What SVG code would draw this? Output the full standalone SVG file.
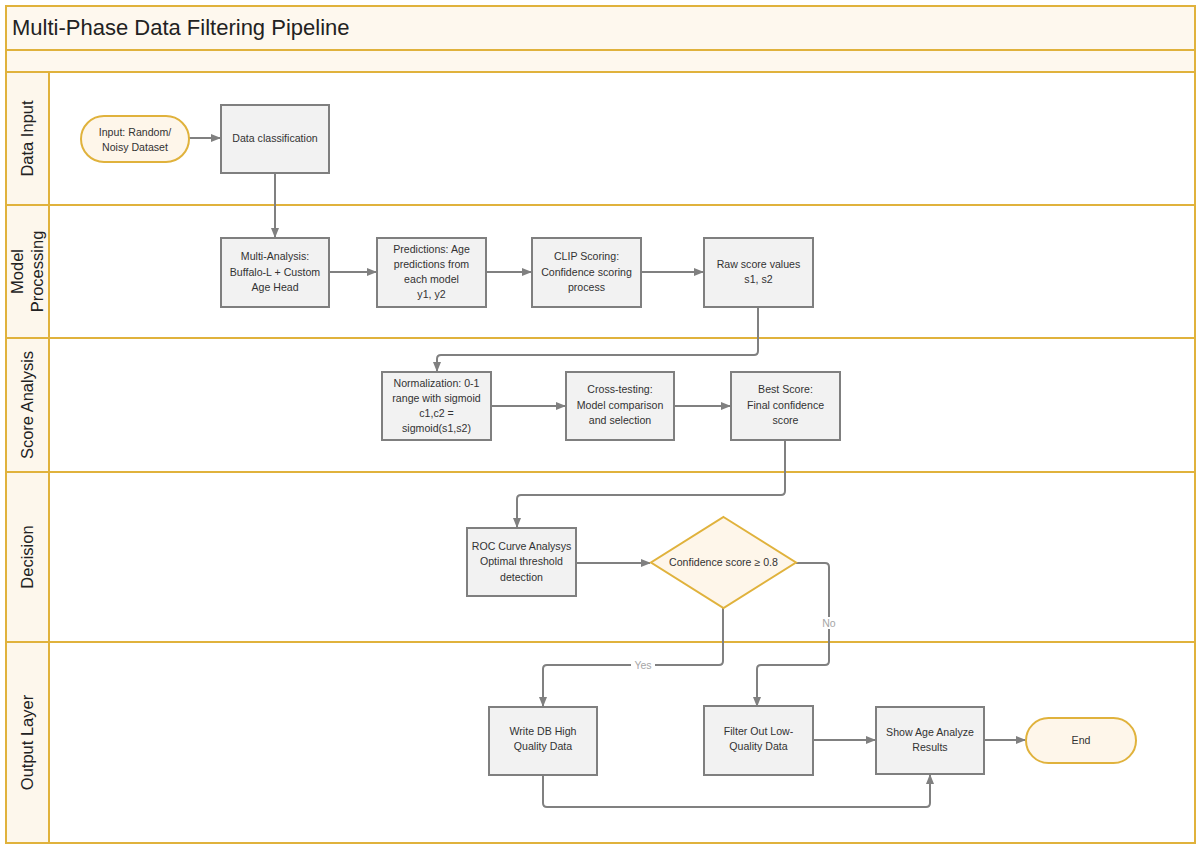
<svg xmlns="http://www.w3.org/2000/svg" width="1198" height="845" viewBox="0 0 1198 845">
<defs>
<style>
.lane{fill:#ffffff;stroke:#e0b23c;stroke-width:2}
.band{fill:#fef8ee;stroke:#e0b23c;stroke-width:2}
.lbl{fill:#fdf7ec;stroke:#e0b23c;stroke-width:2}
.box{fill:#f2f2f2;stroke:#7f7f7f;stroke-width:2}
.term{fill:#fef6ea;stroke:#e0b23c;stroke-width:2}
.t{font-family:"Liberation Sans",Arial,sans-serif;font-size:10.6px;fill:#333333;text-anchor:middle}
.lt{font-family:"Liberation Sans",Arial,sans-serif;font-size:16.5px;fill:#222222;text-anchor:middle}
.c{fill:none;stroke:#808080;stroke-width:2}
.el{font-family:"Liberation Sans",Arial,sans-serif;font-size:10.5px;fill:#a6a6a6;text-anchor:middle}
</style>
<marker id="ah" markerWidth="10" markerHeight="10" refX="9" refY="5" orient="auto" markerUnits="userSpaceOnUse">
<path d="M0,1 L10,5 L0,9 Z" fill="#808080"/>
</marker>
</defs>
<rect width="1198" height="845" fill="#ffffff"/>
<g id="frame">
<rect class="band" x="6" y="6" width="1189" height="44"/>
<rect class="band" x="6" y="50" width="1189" height="22"/>
<text x="12" y="35" font-family="Liberation Sans,Arial,sans-serif" font-size="22" fill="#222222">Multi-Phase Data Filtering Pipeline</text>
</g>
<g id="lane-data-input">
<rect class="lane" x="6" y="72" width="1189" height="133"/>
<rect class="lbl" x="6" y="72" width="43" height="133"/>
<text class="lt" transform="translate(33,138.5) rotate(-90)">Data Input</text>
</g>
<g id="lane-model-processing">
<rect class="lane" x="6" y="205" width="1189" height="133"/>
<rect class="lbl" x="6" y="205" width="43" height="133"/>
<text class="lt" transform="translate(23,271.5) rotate(-90)">Model</text>
<text class="lt" transform="translate(43,271.5) rotate(-90)">Processing</text>
</g>
<g id="lane-score-analysis">
<rect class="lane" x="6" y="338" width="1189" height="134"/>
<rect class="lbl" x="6" y="338" width="43" height="134"/>
<text class="lt" transform="translate(33,405) rotate(-90)">Score Analysis</text>
</g>
<g id="lane-decision">
<rect class="lane" x="6" y="472" width="1189" height="170"/>
<rect class="lbl" x="6" y="472" width="43" height="170"/>
<text class="lt" transform="translate(33,557) rotate(-90)">Decision</text>
</g>
<g id="lane-output">
<rect class="lane" x="6" y="642" width="1189" height="201"/>
<rect class="lbl" x="6" y="642" width="43" height="201"/>
<text class="lt" transform="translate(33,742.5) rotate(-90)">Output Layer</text>
</g>
<g id="connectors">
<path class="c" d="M189,138 H220" marker-end="url(#ah)"/>
<path class="c" d="M275,173 V237" marker-end="url(#ah)"/>
<path class="c" d="M329,272 H376" marker-end="url(#ah)"/>
<path class="c" d="M486,272 H531" marker-end="url(#ah)"/>
<path class="c" d="M641,272 H703" marker-end="url(#ah)"/>
<path class="c" d="M758,307 V351 Q758,355 754,355 H441 Q437,355 437,359 V371" marker-end="url(#ah)"/>
<path class="c" d="M491,406 H565" marker-end="url(#ah)"/>
<path class="c" d="M674,406 H730" marker-end="url(#ah)"/>
<path class="c" d="M785,440 V491 Q785,495 781,495 H521 Q517,495 517,499 V527" marker-end="url(#ah)"/>
<path class="c" d="M576,563 H650" marker-end="url(#ah)"/>
<path class="c" d="M723,608 V661 Q723,665 719,665 H547 Q543,665 543,669 V706" marker-end="url(#ah)"/>
<path class="c" d="M796,563 H825 Q829,563 829,567 V661 Q829,665 825,665 H761 Q757,665 757,669 V706" marker-end="url(#ah)"/>
<path class="c" d="M813,740 H875" marker-end="url(#ah)"/>
<path class="c" d="M984,740 H1025" marker-end="url(#ah)"/>
<path class="c" d="M543,775 V803 Q543,807 547,807 H926 Q930,807 930,803 V775" marker-end="url(#ah)"/>
<rect x="631" y="659" width="24" height="12" fill="#ffffff"/>
<text class="el" x="643" y="669">Yes</text>
<rect x="820" y="617" width="18" height="12" fill="#ffffff"/>
<text class="el" x="829" y="627">No</text>
</g>
<g id="n-input">
<rect class="term" x="81" y="116" width="108" height="46" rx="23"/>
<text class="t" x="135" y="136">Input: Random/</text>
<text class="t" x="135" y="151">Noisy Dataset</text>
</g>
<g id="n-classification">
<rect class="box" x="221" y="105" width="108" height="68"/>
<text class="t" x="275" y="142">Data classification</text>
</g>
<g id="n-multi">
<rect class="box" x="221" y="238" width="108" height="69"/>
<text class="t" x="275" y="260">Multi-Analysis:</text>
<text class="t" x="275" y="276">Buffalo-L + Custom</text>
<text class="t" x="275" y="291">Age Head</text>
</g>
<g id="n-predictions">
<rect class="box" x="377" y="238" width="109" height="69"/>
<text class="t" x="431.5" y="253">Predictions: Age</text>
<text class="t" x="431.5" y="268">predictions from</text>
<text class="t" x="431.5" y="283">each model</text>
<text class="t" x="431.5" y="298">y1, y2</text>
</g>
<g id="n-clip">
<rect class="box" x="532" y="238" width="109" height="69"/>
<text class="t" x="586.5" y="260">CLIP Scoring:</text>
<text class="t" x="586.5" y="276">Confidence scoring</text>
<text class="t" x="586.5" y="291">process</text>
</g>
<g id="n-raw">
<rect class="box" x="704" y="238" width="109" height="69"/>
<text class="t" x="758.5" y="268">Raw score values</text>
<text class="t" x="758.5" y="283">s1, s2</text>
</g>
<g id="n-normalization">
<rect class="box" x="382" y="372" width="109" height="68"/>
<text class="t" x="436.5" y="387">Normalization: 0-1</text>
<text class="t" x="436.5" y="402">range with sigmoid</text>
<text class="t" x="436.5" y="417">c1,c2 =</text>
<text class="t" x="436.5" y="432">sigmoid(s1,s2)</text>
</g>
<g id="n-cross">
<rect class="box" x="566" y="372" width="108" height="68"/>
<text class="t" x="620" y="393">Cross-testing:</text>
<text class="t" x="620" y="409">Model comparison</text>
<text class="t" x="620" y="424">and selection</text>
</g>
<g id="n-best">
<rect class="box" x="731" y="372" width="109" height="68"/>
<text class="t" x="785.5" y="393">Best Score:</text>
<text class="t" x="785.5" y="409">Final confidence</text>
<text class="t" x="785.5" y="424">score</text>
</g>
<g id="n-roc">
<rect class="box" x="467" y="528" width="109" height="68"/>
<text class="t" x="521.5" y="550">ROC Curve Analysys</text>
<text class="t" x="521.5" y="565">Optimal threshold</text>
<text class="t" x="521.5" y="581">detection</text>
</g>
<g id="n-decision">
<polygon points="723.5,517 796,562.5 723.5,608 651,562.5" fill="#fef6ea" stroke="#e0b23c" stroke-width="2"/>
<text class="t" x="723.5" y="566">Confidence score  ≥ 0.8</text>
</g>
<g id="n-writedb">
<rect class="box" x="489" y="707" width="108" height="68"/>
<text class="t" x="543" y="735">Write DB High</text>
<text class="t" x="543" y="750">Quality Data</text>
</g>
<g id="n-filter">
<rect class="box" x="704" y="706" width="109" height="69"/>
<text class="t" x="758.5" y="735">Filter Out Low-</text>
<text class="t" x="758.5" y="750">Quality Data</text>
</g>
<g id="n-show">
<rect class="box" x="876" y="707" width="108" height="67"/>
<text class="t" x="930" y="736">Show Age Analyze</text>
<text class="t" x="930" y="751">Results</text>
</g>
<g id="n-end">
<rect class="term" x="1026" y="718" width="110" height="45" rx="22.5"/>
<text class="t" x="1081" y="744">End</text>
</g>
</svg>
